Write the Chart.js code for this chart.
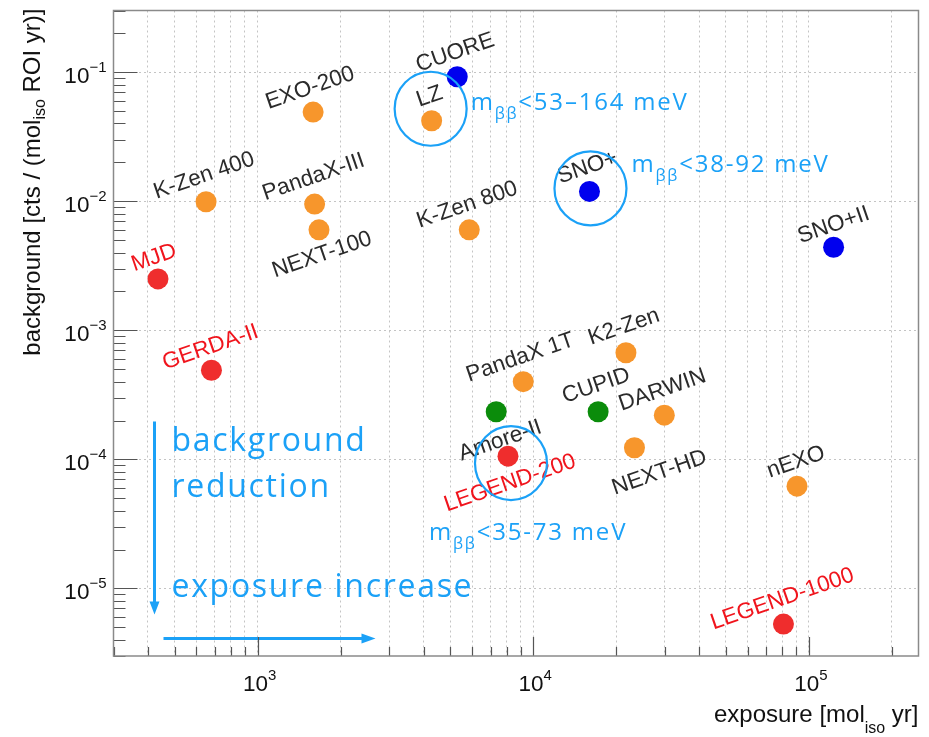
<!DOCTYPE html>
<html>
<head>
<meta charset="utf-8">
<script src="https://cdn.jsdelivr.net/npm/chart.js@4.4.1/dist/chart.umd.min.js"></script>
<style>
  html, body { margin: 0; padding: 0; background: #fff; }
</style>
</head>
<body>
<canvas id="myChart" width="929" height="737"></canvas>
<script>
const names = ["CUORE", "LZ", "EXO-200", "K-Zen 400", "PandaX-III", "NEXT-100", "K-Zen 800",
  "SNO+", "SNO+II", "MJD", "GERDA-II", "PandaX 1T", "K2-Zen", "Amore-II", "CUPID",
  "DARWIN", "NEXT-HD", "LEGEND-200", "nEXO", "LEGEND-1000"];
const isotope = ["Te", "Xe", "Xe", "Xe", "Xe", "Xe", "Xe",
  "Te", "Te", "Ge", "Ge", "Xe", "Xe", "Mo", "Mo",
  "Xe", "Xe", "Ge", "Xe", "Ge"];
// exposure [mol_iso yr]
const exposure = [5300, 4280, 1590, 650, 1610, 1670, 5860,
  16000, 123000, 435, 680, 9200, 21700, 7340, 17200,
  29900, 23300, 8100, 90600, 80900];
// background [cts / (mol_iso ROI yr)]
const background = [0.092, 0.042, 0.049, 0.0099, 0.0095, 0.006, 0.006,
  0.0119, 0.0044, 0.0025, 0.00049, 0.0004, 0.00067, 0.000234, 0.000234,
  0.00022, 0.000123, 0.000106, 6.2e-5, 5.3e-6];

const isotopes = ["Ge", "Xe", "Te", "Mo"];
const isoColors = { Ge: "#ef2d2d", Xe: "#f7962c", Te: "#0000ee", Mo: "#0b8c0b" };

// sensitivity notes: [experiment circled, text after m_bb]
const limitNotes = [["LZ", "<53\u2013164 meV"], ["SNO+", "<38-92 meV"], ["LEGEND-200", "<35-73 meV"]];

const xTickExp = [3, 4, 5];
const yTickExp = [-1, -2, -3, -4, -5];
const xRange = [300, 2.5e5];
const yRange = [3e-6, 0.3];

// label placement (px from the dot)
const labelShift = [[-2, -24], [-2, -24], [-3, -24], [-2, -26], [-1, -27], [3, 25], [-2, -25],
  [-2, -24], [0, -22], [-4, -21], [-1, -23], [-3, -24], [-2, -26], [4, 29], [-2, -26],
  [-2, -25], [25, 25], [2, 27], [-1, -24], [-1, -25]];
// circle centre and note start (px from the dot)
const noteShift = [[[-1, -12], [39, -11]], [[1, -3], [42, -19]], [[3, 7], [-79, 84]]];

const BLUE = "#1ba1f7";
const isPow10 = v => Math.abs(Math.log10(v) - Math.round(Math.log10(v))) < 1e-6;

function logTicks(min, max) {
  const out = [];
  for (let e = Math.floor(Math.log10(min)); e <= Math.ceil(Math.log10(max)); e++) {
    for (let m = 1; m <= 9; m++) {
      const v = m * Math.pow(10, e);
      if (v >= min * 0.999 && v <= max * 1.001) out.push({ value: v, major: m === 1 });
    }
  }
  return out;
}

function supText(ctx, base, exp, x, y, align, bigFont, smallFont, raise) {
  ctx.font = bigFont;
  const w1 = ctx.measureText(base).width;
  ctx.font = smallFont;
  const w2 = ctx.measureText(exp).width;
  let x0 = x;
  if (align === "right") x0 = x - w1 - w2;
  if (align === "center") x0 = x - (w1 + w2) / 2;
  ctx.textAlign = "left";
  ctx.font = bigFont;
  ctx.fillText(base, x0, y);
  ctx.font = smallFont;
  ctx.fillText(exp, x0 + w1, y + raise);
}

// text with a subscript in the middle: [before, sub, after]
function subText(ctx, parts, x, y, align, bigFont, smallFont, drop) {
  ctx.font = bigFont;
  const a = ctx.measureText(parts[0]).width;
  const c = ctx.measureText(parts[2]).width;
  ctx.font = smallFont;
  const b = ctx.measureText(parts[1]).width;
  let x0 = x;
  if (align === "right") x0 = x - a - b - c;
  ctx.textAlign = "left";
  ctx.font = bigFont;
  ctx.fillText(parts[0], x0, y);
  ctx.fillText(parts[2], x0 + a + b, y);
  ctx.font = smallFont;
  ctx.fillText(parts[1], x0 + a, y + drop);
}

const framePlugin = {
  id: "frame",
  afterDraw(chart) {
    const { ctx, chartArea: a, scales: { x, y } } = chart;
    ctx.save();
    ctx.strokeStyle = "#555";
    ctx.lineWidth = 1.2;
    ctx.beginPath();
    x.ticks.forEach(t => {
      const px = Math.round(x.getPixelForValue(t.value)) + 0.5;
      ctx.moveTo(px, a.bottom);
      ctx.lineTo(px, a.bottom - (isPow10(t.value) ? 19 : 9));
    });
    y.ticks.forEach(t => {
      const py = Math.round(y.getPixelForValue(t.value)) + 0.5;
      ctx.moveTo(a.left, py);
      ctx.lineTo(a.left + (isPow10(t.value) ? 24 : 12), py);
    });
    ctx.stroke();
    ctx.strokeStyle = "#8a8a8a";
    ctx.lineWidth = 1.5;
    ctx.strokeRect(a.left, a.top, a.right - a.left, a.bottom - a.top);

    ctx.fillStyle = "#111";
    ctx.textBaseline = "alphabetic";
    xTickExp.forEach(e => {
      const px = x.getPixelForValue(Math.pow(10, e));
      supText(ctx, "10", String(e), px + 2, a.bottom + 35, "center",
        "22.5px 'Liberation Sans'", "15px 'Liberation Sans'", -11);
    });
    yTickExp.forEach(e => {
      const py = y.getPixelForValue(Math.pow(10, e));
      supText(ctx, "10", "\u2212" + Math.abs(e), a.left - 7, py + 11, "right",
        "22.5px 'Liberation Sans'", "15px 'Liberation Sans'", -11);
    });

    // axis titles
    subText(ctx, ["exposure [mol", "iso", " yr]"], a.right, 722, "right",
      "24px 'Liberation Sans'", "16px 'Liberation Sans'", 11);
    ctx.save();
    ctx.translate(40, a.top - 2);
    ctx.rotate(-Math.PI / 2);
    subText(ctx, ["background [cts / (mol", "iso", " ROI yr)]"], 0, 0, "right",
      "24px 'Liberation Sans'", "16px 'Liberation Sans'", 5);
    ctx.restore();
    ctx.restore();
  }
};

const notesPlugin = {
  id: "notes",
  afterDatasetsDraw(chart) {
    const { ctx, chartArea: a, scales: { x, y } } = chart;
    ctx.save();
    // point labels
    ctx.textAlign = "center";
    ctx.textBaseline = "middle";
    ctx.font = "22.5px 'Liberation Sans'";
    names.forEach((n, i) => {
      const px = x.getPixelForValue(exposure[i]) + labelShift[i][0];
      const py = y.getPixelForValue(background[i]) + labelShift[i][1];
      ctx.save();
      ctx.translate(px, py);
      ctx.rotate(-19 * Math.PI / 180);
      ctx.fillStyle = isotope[i] === "Ge" ? "#f0141c" : "#2b2b2b";
      ctx.fillText(n, 0, 0);
      ctx.restore();
    });

    // circles and m_bb limits
    ctx.strokeStyle = BLUE;
    ctx.fillStyle = BLUE;
    ctx.lineWidth = 2.2;
    ctx.textBaseline = "alphabetic";
    ctx.letterSpacing = "1.8px";
    limitNotes.forEach((note, k) => {
      const i = names.indexOf(note[0]);
      const px = x.getPixelForValue(exposure[i]);
      const py = y.getPixelForValue(background[i]);
      const c = noteShift[k][0], t = noteShift[k][1];
      ctx.beginPath();
      ctx.ellipse(px + c[0], py + c[1], 36, 37, 0, 0, 2 * Math.PI);
      ctx.stroke();
      subText(ctx, ["m", "\u03b2\u03b2", note[1]], px + t[0], py + t[1], "left",
        "24px 'Open Sans'", "16px 'Open Sans'", 9);
    });

    // trend arrows
    ctx.lineWidth = 3;
    const ax = a.left + 41;
    ctx.beginPath();
    ctx.moveTo(ax, a.top + 411);
    ctx.lineTo(ax, a.top + 594);
    ctx.moveTo(a.left + 50, a.top + 628);
    ctx.lineTo(a.left + 250, a.top + 628);
    ctx.stroke();
    ctx.beginPath();
    ctx.moveTo(ax - 5, a.top + 591);
    ctx.lineTo(ax + 5, a.top + 591);
    ctx.lineTo(ax, a.top + 604);
    ctx.closePath();
    ctx.moveTo(a.left + 248, a.top + 623);
    ctx.lineTo(a.left + 248, a.top + 633);
    ctx.lineTo(a.left + 262, a.top + 628);
    ctx.closePath();
    ctx.fill();
    ctx.font = "32px 'Open Sans'";
    ctx.letterSpacing = "1.7px";
    ctx.textAlign = "left";
    ctx.fillText("background", a.left + 58, a.top + 440);
    ctx.fillText("reduction", a.left + 58, a.top + 486);
    ctx.fillText("exposure increase", a.left + 58, a.top + 586);
    ctx.letterSpacing = "0px";
    ctx.restore();
  }
};

const datasets = isotopes.map(iso => ({
  label: iso,
  data: exposure.map((v, i) => ({ x: v, y: background[i], iso: isotope[i] })).filter(p => p.iso === iso),
  backgroundColor: isoColors[iso],
  borderWidth: 0,
  pointRadius: 10.5,
  pointHoverRadius: 10.5
}));

new Chart("myChart", {
  type: "scatter",
  data: { datasets: datasets },
  options: {
    responsive: false,
    animation: false,
    devicePixelRatio: 1,
    events: [],
    layout: { padding: { left: 0, top: 7, right: 6, bottom: 0 } },
    plugins: { legend: { display: false }, tooltip: { enabled: false } },
    scales: {
      x: {
        type: "logarithmic",
        min: xRange[0],
        max: xRange[1],
        afterBuildTicks: s => { s.ticks = logTicks(xRange[0], xRange[1]); },
        afterFit: s => { s.height = 81; },
        ticks: { display: false },
        grid: { color: "#c4c4c4", lineWidth: 1, drawTicks: false },
        border: { display: false, dash: [2, 3] }
      },
      y: {
        type: "logarithmic",
        min: yRange[0],
        max: yRange[1],
        afterBuildTicks: s => { s.ticks = logTicks(yRange[0], yRange[1]); },
        afterFit: s => { s.width = 113.5; },
        ticks: { display: false },
        grid: {
          color: c => (c.tick && isPow10(c.tick.value)) ? "#c4c4c4" : "rgba(0,0,0,0)",
          lineWidth: 1,
          drawTicks: false
        },
        border: { display: false, dash: [2, 3] }
      }
    }
  },
  plugins: [framePlugin, notesPlugin]
});
</script>
</body>
</html>
